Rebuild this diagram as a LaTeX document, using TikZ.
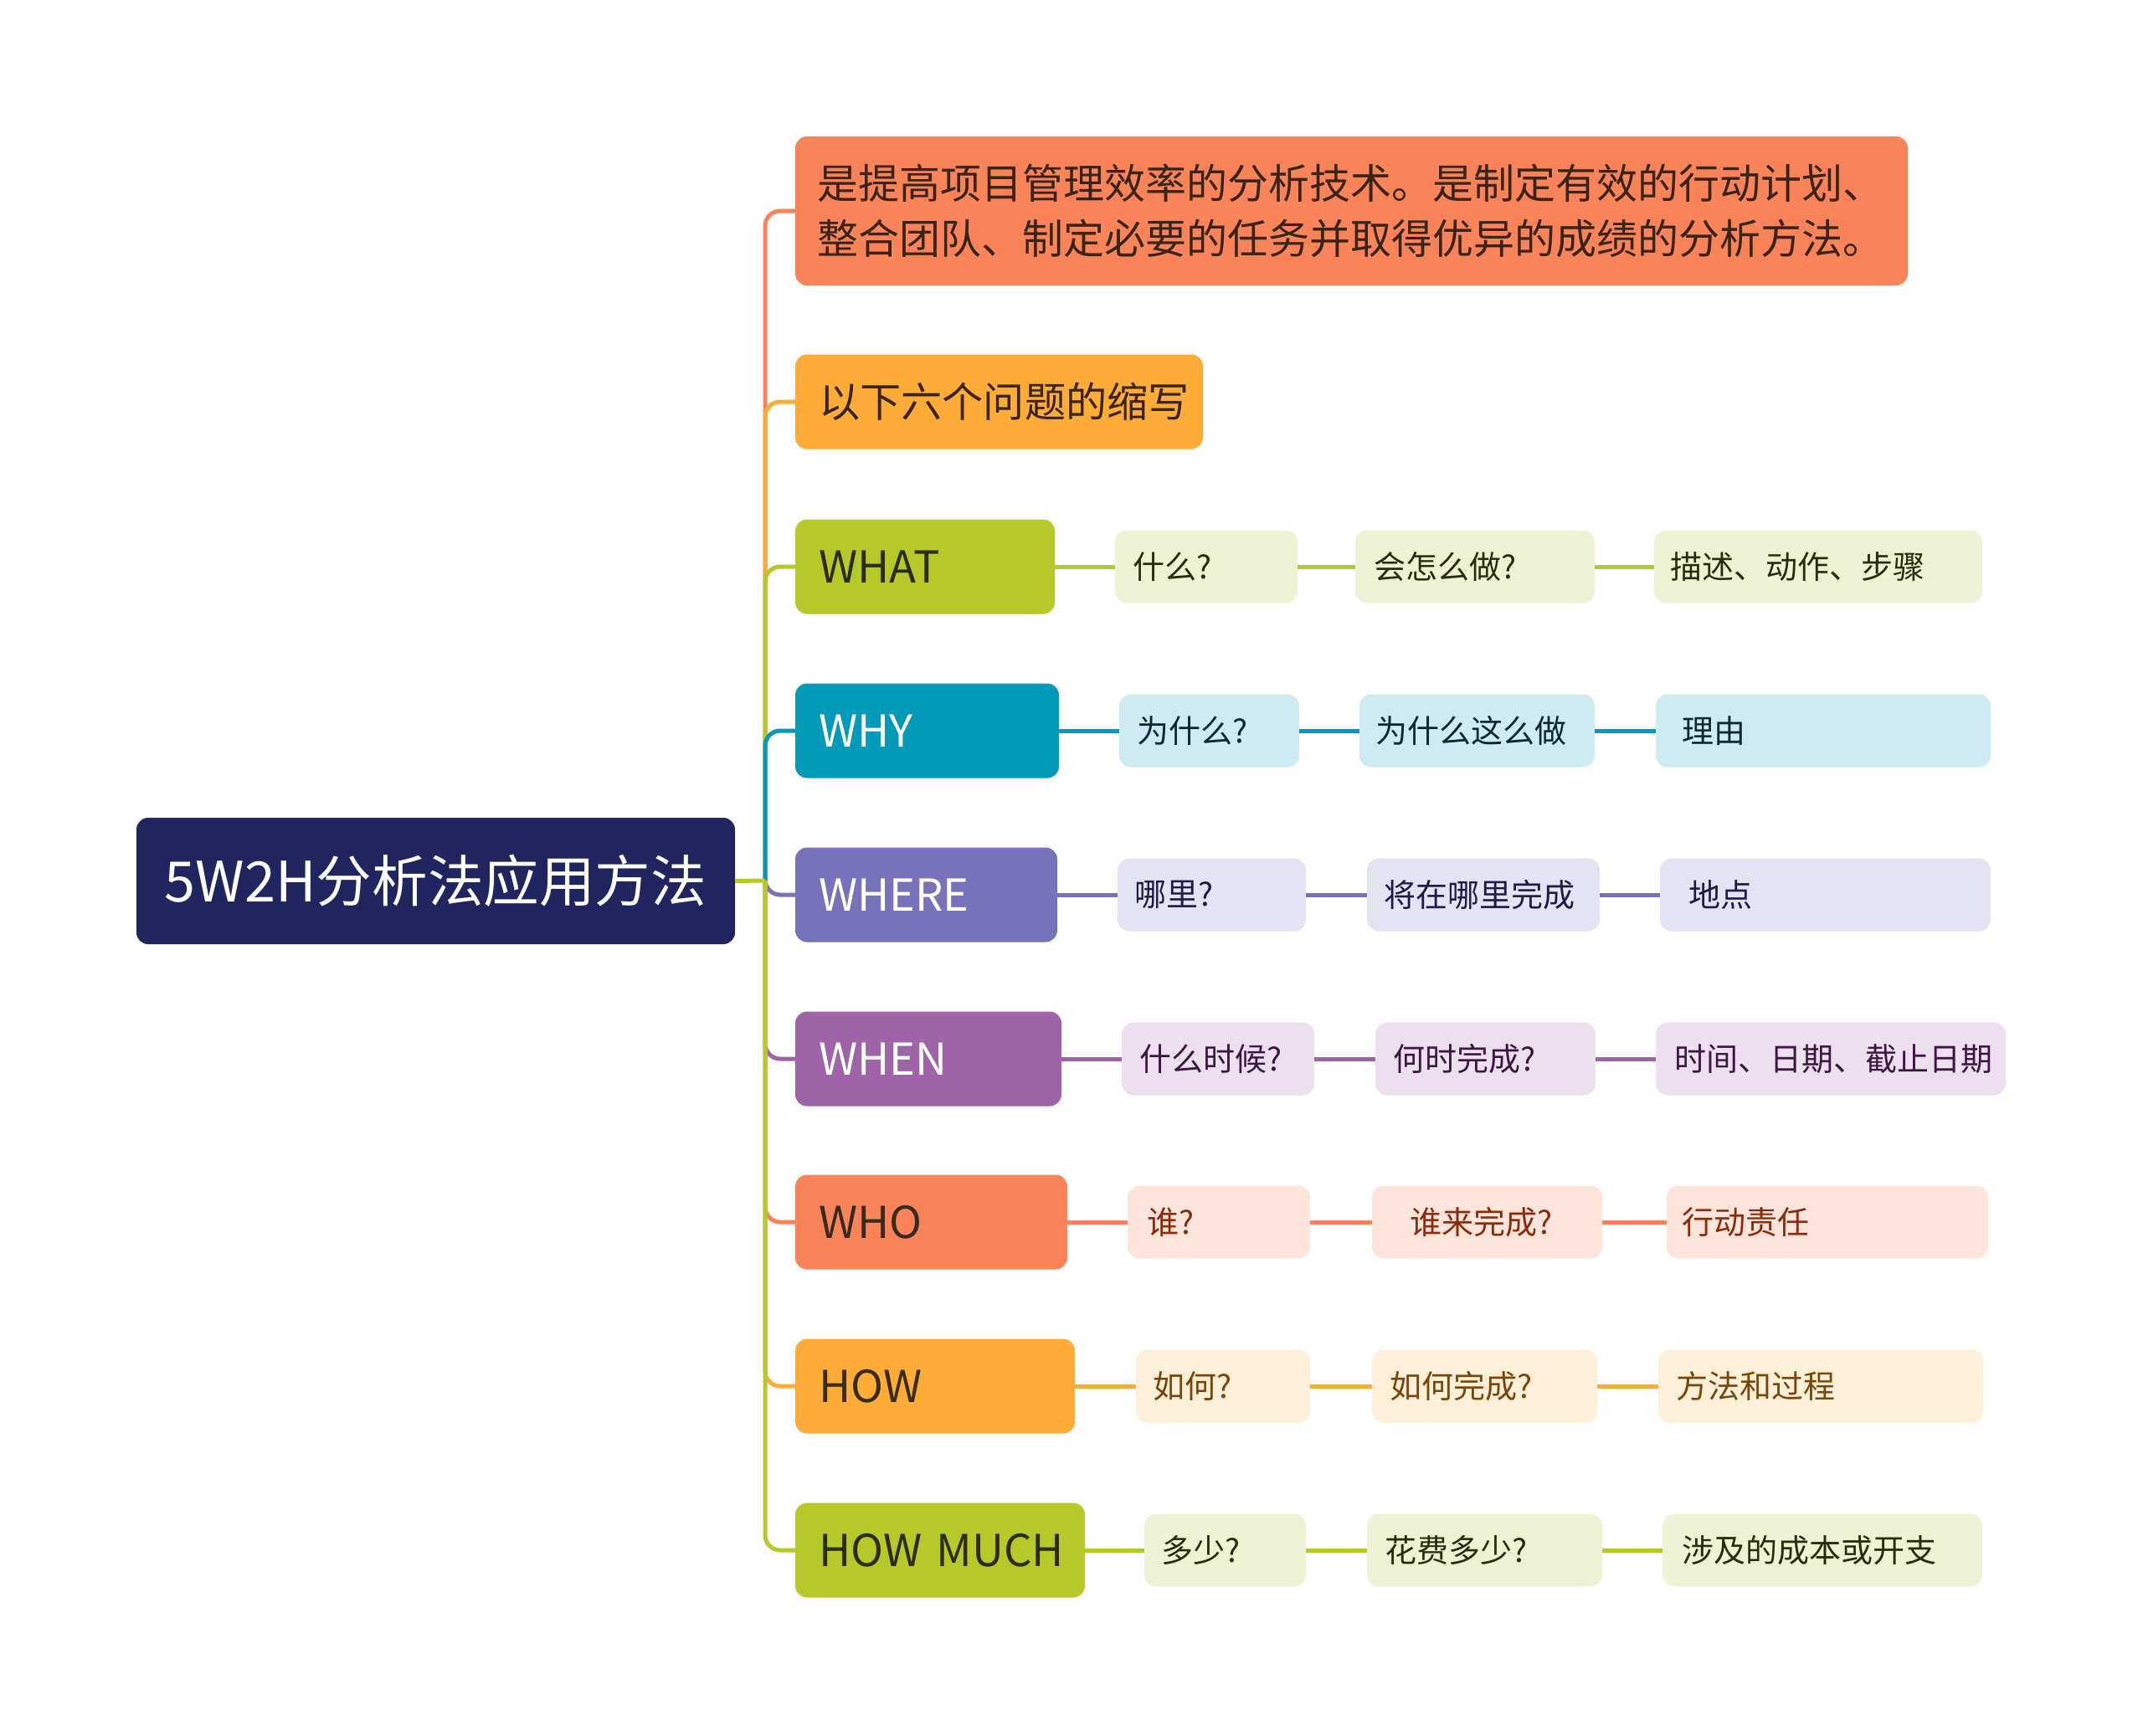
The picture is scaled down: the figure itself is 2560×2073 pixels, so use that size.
\documentclass[tikz,border=0pt]{standalone}
\usepackage{fontspec}
\setmainfont{Noto Sans CJK SC}
\definecolor{croot}{HTML}{20255F}
\definecolor{ccoral}{HTML}{F9845A}
\definecolor{corange}{HTML}{FCAC37}
\definecolor{cgreen}{HTML}{B7C92A}
\definecolor{cteal}{HTML}{0399B8}
\definecolor{cperi}{HTML}{7673BA}
\definecolor{cpurp}{HTML}{9F64A7}
\definecolor{lgreen}{HTML}{EFF3D5}
\definecolor{lteal}{HTML}{CDEBF1}
\definecolor{lperi}{HTML}{E4E3F1}
\definecolor{lpurp}{HTML}{ECE0EE}
\definecolor{lcoral}{HTML}{FEE5DC}
\definecolor{lorange}{HTML}{FEEFD8}
\definecolor{tdesc}{HTML}{3A2418}
\definecolor{tgreen}{HTML}{2A2D0C}
\definecolor{tteal}{HTML}{0B2730}
\definecolor{tperi}{HTML}{1E1B4B}
\definecolor{tpurp}{HTML}{3B1741}
\definecolor{tcoral}{HTML}{8A2B0C}
\definecolor{torange}{HTML}{7A4608}
\definecolor{tcoraldark}{HTML}{3A2A22}
\definecolor{torangedark}{HTML}{3A2C14}
\newcommand\fleaf{\fontsize{19pt}{23pt}\selectfont}
\newcommand\flvl{\fontsize{26.3pt}{31pt}\selectfont}
\newcommand\fcjk{\fontsize{24.6pt}{30pt}\selectfont}
\newcommand\fdesc{\fontsize{24.5pt}{33pt}\selectfont}
\newcommand\froot{\fontsize{33.3pt}{40pt}\selectfont}
% name, xleft, ycenter, width, pad, height, style, text
\newcommand\bx[8]{%
  \pgfmathsetlengthmacro\bxtw{(#4-2*#5)*0.5pt}%
  \pgfmathsetlengthmacro\bxpad{#5*0.5pt}%
  \pgfmathsetlengthmacro\bxht{#6*0.5pt}%
  \node[box,#7,anchor=west,minimum height=\bxht,inner xsep=\bxpad,text width=\bxtw] (#1) at (#2,#3) {\mbox{#8}};}
\begin{document}
\begin{tikzpicture}[x=0.5pt,y=-0.5pt,
  box/.style={rounded corners=7pt, inner ysep=0pt, outer sep=0pt, align=left},
  conn/.style={line width=2.5pt},
  lvgreen/.style={fill=cgreen,text=tgreen,font=\flvl},
  lvteal/.style={fill=cteal,text=white,font=\flvl},
  lvperi/.style={fill=cperi,text=white,font=\flvl},
  lvpurp/.style={fill=cpurp,text=white,font=\flvl},
  lvcoral/.style={fill=ccoral,text=tcoraldark,font=\flvl},
  lvorange/.style={fill=corange,text=torangedark,font=\flvl},
  lfgreen/.style={fill=lgreen,text=tgreen,font=\fleaf},
  lfteal/.style={fill=lteal,text=tteal,font=\fleaf},
  lfperi/.style={fill=lperi,text=tperi,font=\fleaf},
  lfpurp/.style={fill=lpurp,text=tpurp,font=\fleaf},
  lfcoral/.style={fill=lcoral,text=tcoral,font=\fleaf},
  lforange/.style={fill=lorange,text=torange,font=\fleaf}]
\useasboundingbox[fill=white] (0,0) rectangle (2560,2073);

% root
\node[box, fill=croot, text=white, minimum width=357.5pt, minimum height=75.5pt, font=\froot] (root) at (520.5,1052.5) {5W2H分析法应用方法};

% first level
\node[box, fill=ccoral, text=tdesc, anchor=west, minimum height=89pt, inner xsep=13pt, text width=638.5pt, font=\fdesc] (desc) at (950,252) {是提高项目管理效率的分析技术。是制定有效的行动计划、\\整合团队、制定必要的任务并取得优异的成绩的分析方法。};
\bx{yx}{950}{480}{487}{28}{113}{fill=corange,text=tdesc,font=\fcjk}{以下六个问题的缩写}
\bx{what}{950}{677}{310}{28}{113}{lvgreen}{WHAT}
\bx{why}{950}{873}{315}{28}{113}{lvteal}{WHY}
\bx{where}{950}{1069}{313}{28}{113}{lvperi}{WHERE}
\bx{when}{950}{1265}{318}{28}{113}{lvpurp}{WHEN}
\bx{who}{950}{1460}{325}{28}{113}{lvcoral}{WHO}
\bx{how}{950}{1656}{334}{28}{113}{lvorange}{HOW}
\bx{hm}{950}{1852}{346}{28}{113}{lvgreen}{HOW MUCH}

% leaves
\bx{what-1}{1332}{677}{218}{21}{87}{lfgreen}{什么?}
\bx{what-2}{1619}{677}{286}{22}{87}{lfgreen}{会怎么做?}
\bx{what-3}{1976}{677}{392}{19}{87}{lfgreen}{描述、动作、步骤}
\bx{why-1}{1337}{873}{215}{21}{87}{lfteal}{为什么?}
\bx{why-2}{1624}{873}{281}{19}{87}{lfteal}{为什么这么做}
\bx{why-3}{1978}{873}{400}{31}{87}{lfteal}{理由}
\bx{where-1}{1335}{1069}{225}{20}{87}{lfperi}{哪里?}
\bx{where-2}{1633}{1069}{278}{20}{87}{lfperi}{将在哪里完成}
\bx{where-3}{1983}{1069}{395}{34}{87}{lfperi}{地点}
\bx{when-1}{1340}{1265}{230}{21}{87}{lfpurp}{什么时候?}
\bx{when-2}{1643}{1265}{263}{21}{87}{lfpurp}{何时完成?}
\bx{when-3}{1978}{1265}{418}{22}{87}{lfpurp}{时间、日期、截止日期}
\bx{who-1}{1347}{1460}{218}{23}{87}{lfcoral}{谁?}
\bx{who-2}{1639}{1460}{275}{45}{87}{lfcoral}{谁来完成?}
\bx{who-3}{1991}{1460}{384}{18}{87}{lfcoral}{行动责任}
\bx{how-1}{1357}{1656}{208}{20}{87}{lforange}{如何?}
\bx{how-2}{1639}{1656}{269}{21}{87}{lforange}{如何完成?}
\bx{how-3}{1981}{1656}{388}{21}{87}{lforange}{方法和过程}
\bx{hm-1}{1367}{1852}{193}{20}{87}{lfgreen}{多少?}
\bx{hm-2}{1633}{1852}{281}{21}{87}{lfgreen}{花费多少?}
\bx{hm-3}{1986}{1852}{382}{23}{87}{lfgreen}{涉及的成本或开支}

% trunk connectors
\coordinate (tj) at (914,1052);
\foreach \n/\c in {desc/ccoral, yx/corange, what/cgreen, why/cteal, where/cperi, when/cpurp, who/ccoral, how/corange, hm/cgreen}
  \draw[conn, \c, rounded corners=9pt] (tj) |- (\n.west);
\draw[conn, cgreen] (root.east) -- (tj);

% row connectors
\foreach \r/\c in {what/cgreen, why/cteal, where/cperi, when/cpurp, who/ccoral, how/corange, hm/cgreen}{
  \draw[conn, \c] (\r.east) -- (\r-1.west);
  \draw[conn, \c] (\r-1.east) -- (\r-2.west);
  \draw[conn, \c] (\r-2.east) -- (\r-3.west);
}
\end{tikzpicture}
\end{document}
